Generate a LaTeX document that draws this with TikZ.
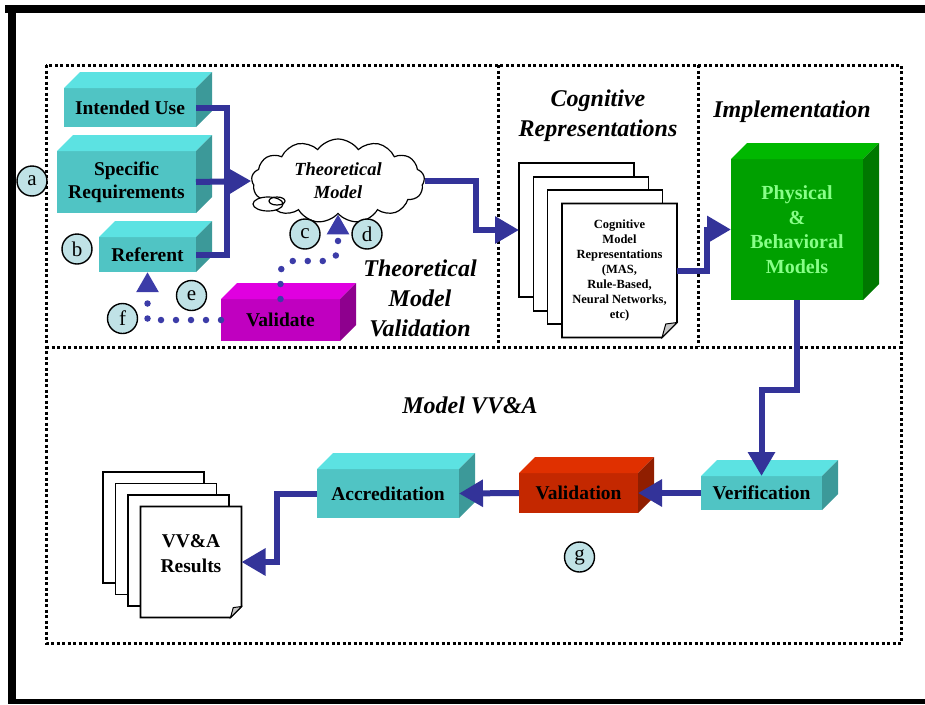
\documentclass[tikz,border=0pt]{standalone}
\usepackage{fontspec}
\setmainfont{Liberation Serif}
\usepackage{tikz}
\usetikzlibrary{positioning,shapes,arrows.meta,calc}
\definecolor{flowblue}{HTML}{333399}
\definecolor{dotblue}{HTML}{3C3CA8}
\definecolor{tealfront}{HTML}{50C4C4}
\definecolor{tealtop}{HTML}{5CE2E2}
\definecolor{tealside}{HTML}{3C9999}
\definecolor{magfront}{HTML}{C000C0}
\definecolor{magtop}{HTML}{E000E0}
\definecolor{magside}{HTML}{8E008E}
\definecolor{grnfront}{HTML}{00A000}
\definecolor{grntop}{HTML}{00B800}
\definecolor{grnside}{HTML}{007800}
\definecolor{grntext}{HTML}{88FF88}
\definecolor{redfront}{HTML}{C42800}
\definecolor{redtop}{HTML}{E03000}
\definecolor{redside}{HTML}{901E00}
\definecolor{tagfill}{HTML}{C0E2E6}
\definecolor{foldgray}{HTML}{C8C8C8}
\tikzset{
    cube/.style={rectangle, inner sep=0pt, outer sep=0pt, align=center, font=\fontsize{19.5}{23}\selectfont\bfseries},
    page/.style={rectangle, draw, line width=1.6pt, fill=white, inner sep=0pt, outer sep=0pt},
    frontpage/.style={page, draw=none, align=center},
    flowarrow/.style={-{Triangle[length=24pt, width=26pt]}, line width=6pt, color=flowblue},
    flowline/.style={line width=6pt, color=flowblue},
    dotarrow/.style={-{Triangle[length=20pt, width=21pt]}, line width=6.5pt, color=dotblue, line cap=round, dash pattern=on 0pt off 15pt},
    tag/.style={circle, draw, line width=1.4pt, fill=tagfill, minimum size=30pt, inner sep=0pt, font=\fontsize{21}{21}\selectfont},
    zoneline/.style={line width=3pt, dash pattern=on 3pt off 2.5pt},
    heading/.style={align=center, font=\fontsize{24}{30}\selectfont\bfseries\itshape}
}
% top and side faces of a box node
\newcommand{\cubefaces}[3]{%
    \fill[#2] (#1.north west) -- ++(16,-16) -- ($(#1.north east)+(16,-16)$) -- (#1.north east) -- cycle;
    \fill[#3] (#1.north east) -- ++(16,-16) -- ($(#1.south east)+(16,-16)$) -- (#1.south east) -- cycle;
}
% outline of a front page with a folded corner
\newcommand{\foldpage}[2]{%
    \draw[line width=1.6pt] (#1.north west) -- (#1.north east) -- ($(#1.south east)+(0,-#2)$) -- ($(#1.south east)+(-#2,0)$) -- (#1.south west) -- cycle;
    \draw[line width=1pt, fill=foldgray] ($(#1.south east)+(0,-#2)$) -- ($(#1.south east)+(-#2,0)$) -- ($(#1.south east)+(-0.75*#2,-0.9*#2)$) -- cycle;
}

\begin{document}
\begin{tikzpicture}[x=1pt, y=-1pt]
    \useasboundingbox (0,0) rectangle (925,704);
    % black frame
    \fill (5,5) rectangle (925,13);
    \fill (8,5) rectangle (16,704);
    \fill (8,699) rectangle (925,704);
    % dotted zones
    \draw[zoneline] (46,65) rectangle (901,643);
    \draw[zoneline] (46,347) -- (901,347);
    \draw[zoneline] (498,65) -- (498,347);
    \draw[zoneline] (698,65) -- (698,347);

    % boxes
    \node[cube, fill=tealfront, minimum width=132pt, minimum height=39pt] (intended) at (130,107.5) {Intended Use};
    \cubefaces{intended}{tealtop}{tealside}
    \node[cube, fill=tealfront, minimum width=139pt, minimum height=62pt] (specreq) at (126.5,182) {Specific\\Requirements};
    \cubefaces{specreq}{tealtop}{tealside}
    \node[cube, fill=tealfront, minimum width=97pt, minimum height=35pt] (referent) at (147.5,254.5) {Referent};
    \cubefaces{referent}{tealtop}{tealside}
    \node[cube, fill=magfront, minimum width=119pt, minimum height=42pt] (validate) at (280.5,320) {Validate};
    \cubefaces{validate}{magtop}{magside}
    \node[cube, fill=grnfront, text=grntext, minimum width=132pt, minimum height=141pt, font=\fontsize{20}{24.5}\selectfont\bfseries] (physical) at (797,229.5) {Physical\\\&\\Behavioral\\Models};
    \cubefaces{physical}{grntop}{grnside}
    \node[cube, fill=tealfront, minimum width=121pt, minimum height=34pt] (verification) at (761.5,493) {Verification};
    \cubefaces{verification}{tealtop}{tealside}
    \node[cube, fill=redfront, minimum width=119pt, minimum height=40pt] (validation) at (578.5,493) {Validation};
    \cubefaces{validation}{redtop}{redside}
    \node[cube, fill=tealfront, minimum width=142pt, minimum height=49pt] (accreditation) at (388,493.5) {Accreditation};
    \cubefaces{accreditation}{tealtop}{tealside}

    % cloud
    \node[cloud, draw, line width=1.2pt, fill=white, cloud puffs=13, cloud puff arc=110, aspect=2.2, minimum width=173pt, minimum height=84pt, inner sep=0pt, align=center, font=\fontsize{18.5}{23}\selectfont\bfseries\itshape] (cloud) at (338,181) {Theoretical\\Model};
    \draw[line width=1.2pt, fill=white] (268,204) ellipse (15 and 7);
    \draw[line width=1.2pt] (277,201) ellipse (8 and 4);

    % page stacks
    \node[page, minimum width=115pt, minimum height=134pt] (cogA) at (576.5,230) {};
    \node[page, minimum width=115pt, minimum height=134pt] (cogB) at (591,244) {};
    \node[page, minimum width=115pt, minimum height=134pt] (cogC) at (605,257) {};
    \node[frontpage, minimum width=115pt, minimum height=134pt, font=\fontsize{12.5}{15}\selectfont\bfseries] (cogD) at (619.5,270.5) {Cognitive\\Model\\Representations\\(MAS,\\Rule-Based,\\Neural Networks,\\etc)};
    \foldpage{cogD}{15}
    \node[page, minimum width=101pt, minimum height=111pt] (resA) at (153.5,527.5) {};
    \node[page, minimum width=101pt, minimum height=111pt] (resB) at (166,539) {};
    \node[page, minimum width=101pt, minimum height=111pt] (resC) at (178.5,550.5) {};
    \node[frontpage, minimum width=101pt, minimum height=111pt,
        label={[yshift=8pt, align=center, font=\fontsize{19.5}{25}\selectfont\bfseries]center:VV\&A\\Results}] (resD) at (191,562) {};
    \foldpage{resD}{11}

    % headings
    \node[heading] (tmvlabel) at (420,298) {Theoretical\\Model\\Validation};
    \node[heading] (coglabel) at (598,116) {Cognitive\\Representations};
    \node[heading] (implabel) at (792,112) {Implementation};
    \node[heading] (vvalabel) at (470,405) {Model VV\&A};

    % flow connectors
    \coordinate (join) at (227,181);
    \draw[flowline] (intended.east) -| (join);
    \draw[flowline] (referent.east) -| (join);
    \draw[flowarrow] (specreq.east) -- (cloud.west);
    \draw[flowarrow] (cloud.east) -- ++(51,0) |- (cogA.west);
    \draw[flowarrow] (cogD.east) -- ++(30,0) |- (physical.west);
    \draw[flowarrow] (physical.south) -- ++(0,90) -| (verification.north);
    \draw[flowarrow] (verification.west) -- (validation.east);
    \draw[flowarrow] (validation.west) -- (accreditation.east);
    \draw[flowarrow] (accreditation.west) -- ++(-40,0) |- (resD.east);

    % validation loops
    \draw[dotarrow, rounded corners=12pt] (validate.north) -- ++(0,-38) -| (cloud.south);
    \draw[dotarrow] (validate.west) -| (referent.south);

    % tags
    \node[tag] (taga) at (32,181) {a};
    \node[tag] (tagb) at (77,249) {b};
    \node[tag] (tagc) at (305,234) {c};
    \node[tag] (tagd) at (367,234) {d};
    \node[tag] (tage) at (191.5,295.5) {e};
    \node[tag] (tagf) at (122.5,318.5) {f};
    \node[tag] (tagg) at (579.5,557) {g};
\end{tikzpicture}
\end{document}
